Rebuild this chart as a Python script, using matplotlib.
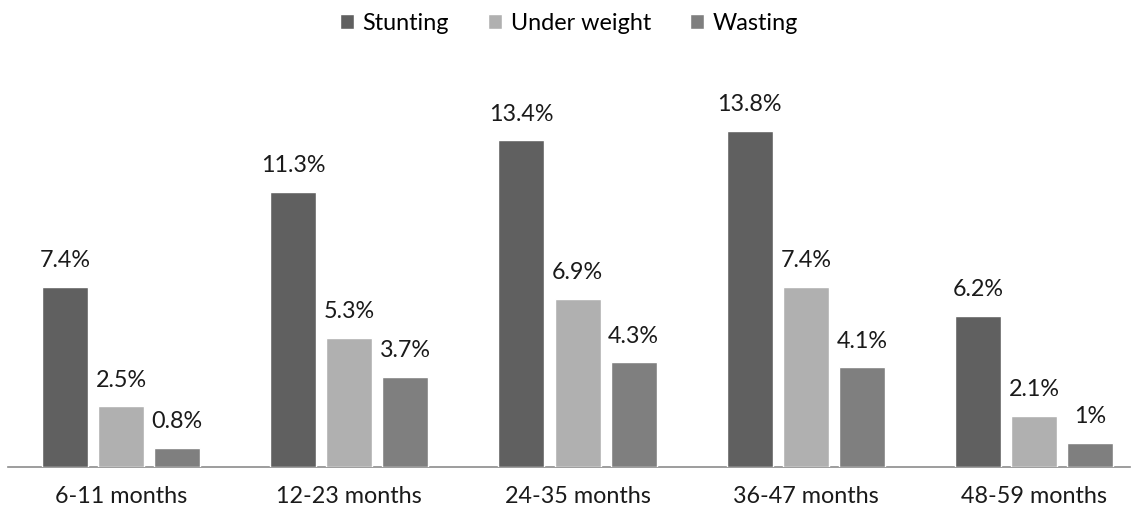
import matplotlib
matplotlib.use("Agg")
import matplotlib.pyplot as plt
import numpy as np

categories = ["6-11 months", "12-23 months", "24-35 months", "36-47 months", "48-59 months"]
series_names = ["Stunting", "Under weight", "Wasting"]
stunting = [7.4, 11.3, 13.4, 13.8, 6.2]
under_weight = [2.5, 5.3, 6.9, 7.4, 2.1]
wasting = [0.8, 3.7, 4.3, 4.1, 1.0]
value_labels = [
    ["7.4%", "11.3%", "13.4%", "13.8%", "6.2%"],
    ["2.5%", "5.3%", "6.9%", "7.4%", "2.1%"],
    ["0.8%", "3.7%", "4.3%", "4.1%", "1%"],
]
colors = ["#606060", "#b0b0b0", "#7f7f7f"]

plt.rcParams['font.family'] = ['Lato', 'DejaVu Sans']

W, H = 1138, 514
fig = plt.figure(figsize=(W / 100, H / 100), dpi=100)
left, right, top, bottom = 8, 1130, 60, 467
ax = fig.add_axes([left / W, 1 - bottom / H, (right - left) / W, (bottom - top) / H])

FS = 16.8
x = np.arange(len(categories))
bw = 0.202
offs = [-0.246, 0.0, 0.246]
for s, (vals, off) in enumerate(zip([stunting, under_weight, wasting], offs)):
    ax.bar(x + off, vals, width=bw, color=colors[s], edgecolor="white",
           linewidth=1.0, label=series_names[s], zorder=3)
    for xi, v, lab in zip(x + off, vals, value_labels[s]):
        ax.annotate(lab, (xi, v), xytext=(0, 14), textcoords="offset points",
                    ha="center", va="baseline", fontsize=FS, color="#1a1a1a")

ax.set_xlim(-0.495, 4.42)
ax.set_ylim(0, 16.7)
ax.set_yticks([])
ax.set_xticks(x)
ax.set_xticklabels(categories, fontsize=FS, color="#1a1a1a")
ax.tick_params(axis="x", length=0, pad=14)
for sp in ["top", "right", "left"]:
    ax.spines[sp].set_visible(False)
ax.spines["bottom"].set_color("#8c8c8c")
ax.spines["bottom"].set_linewidth(1.2)

fig.legend(loc="center", bbox_to_anchor=(0.5, 1 - 23 / H), ncol=3, frameon=False,
           fontsize=FS, handlelength=0.6, handleheight=0.6, handletextpad=0.35,
           columnspacing=1.7)

fig.savefig("out.png", dpi=100)
